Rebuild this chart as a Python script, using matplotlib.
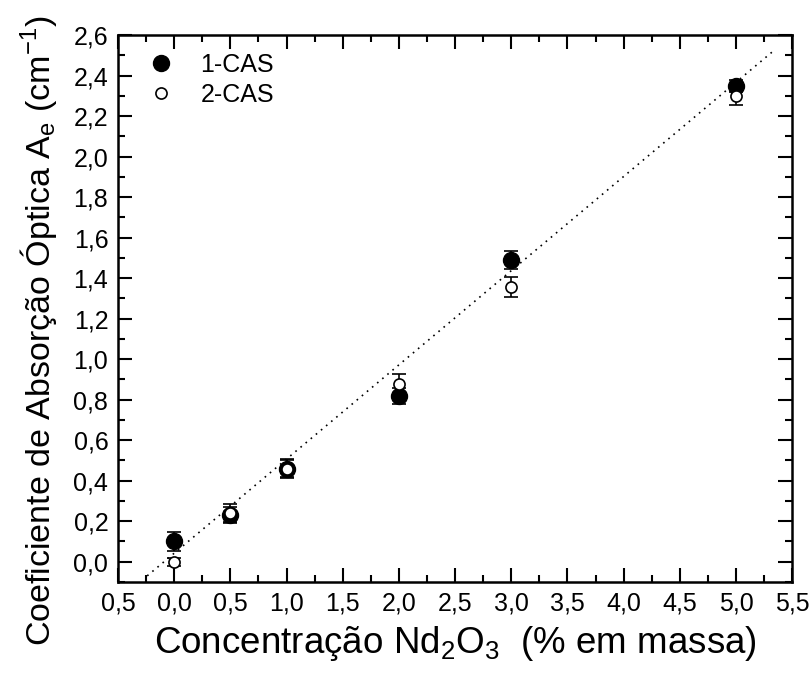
import numpy as np
import matplotlib
matplotlib.use('Agg')
from matplotlib import pyplot as plt
from matplotlib.ticker import MultipleLocator, FuncFormatter
from matplotlib.lines import Line2D

plt.rcParams['font.family'] = ['Liberation Sans', 'DejaVu Sans']
plt.rcParams['mathtext.fontset'] = 'custom'
plt.rcParams['mathtext.rm'] = 'Liberation Sans'
plt.rcParams['mathtext.it'] = 'Liberation Sans:italic'

# Data
conc = [0.0, 0.5, 1.0, 2.0, 3.0, 5.0]
cas1 = [0.10, 0.23, 0.46, 0.82, 1.49, 2.35]
cas1_err = [0.045, 0.04, 0.04, 0.04, 0.045, 0.03]
cas2 = [0.00, 0.24, 0.46, 0.875, 1.355, 2.30]
cas2_err = [0.02, 0.045, 0.045, 0.05, 0.05, 0.045]

# dotted linear fit
fit_x = [-0.24, 5.32]
fit_slope = 0.465
fit_icpt = 0.042

fig = plt.figure(figsize=(8.1, 6.75), dpi=100)
ax = fig.add_axes([0.1457, 0.1378, 0.8323, 0.8102])

fx = np.asarray(fit_x)
ax.plot(fx, fit_slope*fx + fit_icpt, color='k', linestyle=(0, (1, 3)), lw=1.2, zorder=1)

ax.errorbar(conc, cas1, yerr=cas1_err, fmt='o', color='k', mfc='k', mec='k',
            ms=11.5, ecolor='k', elinewidth=1.2, capsize=5, capthick=1.2, zorder=2)
ax.errorbar(conc, cas2, yerr=cas2_err, fmt='o', color='k', mfc='white', mec='k',
            ms=8, mew=1.2, ecolor='k', elinewidth=1.2, capsize=5, capthick=1.2, zorder=3)

ax.set_xlim(-0.5, 5.5)
ax.set_ylim(-0.1, 2.6)
ax.xaxis.set_major_locator(MultipleLocator(0.5))
ax.xaxis.set_minor_locator(MultipleLocator(0.25))
ax.yaxis.set_major_locator(MultipleLocator(0.2))
ax.yaxis.set_minor_locator(MultipleLocator(0.1))
fmt = FuncFormatter(lambda v, p: '{:.1f}'.format(abs(v)).replace('.', ','))
ax.xaxis.set_major_formatter(fmt)
ax.yaxis.set_major_formatter(fmt)

ax.tick_params(which='both', direction='in', top=True, right=True,
               labeltop=False, labelright=False, width=1.5)
ax.tick_params(which='major', length=10, labelsize=18, pad=7)
ax.tick_params(which='minor', length=5)
for s in ax.spines.values():
    s.set_linewidth(1.8)

ax.set_xlabel('Concentração Nd$_2$O$_3$  (% em massa)', fontsize=26.5, labelpad=6)
ax.set_ylabel('Coeficiente de Absorção Óptica A$_\\mathrm{e}$ (cm$^{-1}$)', fontsize=24.5)
ax.yaxis.set_label_coords(-0.087, 0.46)

handles = [Line2D([], [], ls='none', marker='o', ms=11.5, mfc='k', mec='k'),
           Line2D([], [], ls='none', marker='o', ms=8, mew=1.2, mfc='white', mec='k')]
ax.legend(handles, ['1-CAS', '2-CAS'], loc='upper left', frameon=False, fontsize=18,
          numpoints=1, handletextpad=0.6, borderaxespad=0.3, labelspacing=0.25,
          bbox_to_anchor=(0.0, 1.0))

fig.savefig('out.png', dpi=100)
